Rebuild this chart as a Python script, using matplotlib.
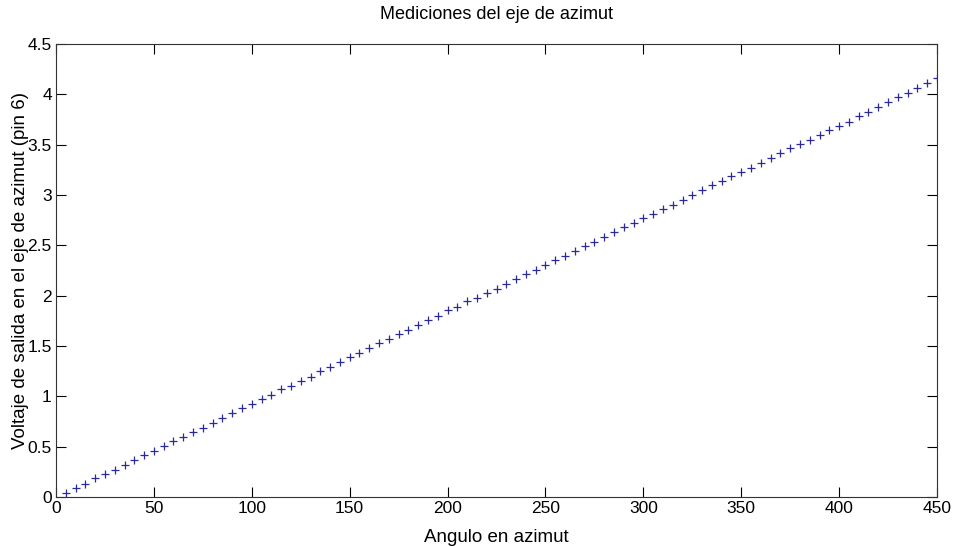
##Basic libraries for plotting and working with arrays
import matplotlib.pyplot as plt
import numpy as np

angulo=[5,10,15,20,25,30,35,40,45,50,
        55,60,65,70,75,80,85,90,95,100,
        105,110,115,120,125,130,135,140,145,150,
        155,160,165,170,175,180,185,190,195,200,
        205,210,215,220,225,230,235,240,245,250,
        255,260,265,270,275,280,285,290,295,300,
        305,310,315,320,325,330,335,340,345,350,
        355,360,365,370,375,380,385,390,395,400,
        405,410,415,420,425,430,435,440,445,450]
voltaje=[0.044,0.089,0.133,0.189,0.233,0.265,0.318,0.368,0.417,0.457,
         0.511,0.554,0.600,0.643,0.686,0.736,0.782,0.835,0.882,0.924,
         0.978,1.018,1.071,1.107,1.150,1.193,1.247,1.292,1.346,1.386,
         1.428,1.478,1.528,1.571,1.624,1.660,1.710,1.754,1.803,1.853,
         1.889,1.945,1.978,2.028,2.068,2.121,2.164,2.211,2.256,2.306,
         2.350,2.396,2.445,2.495,2.538,2.581,2.635,2.678,2.718,2.767,
         2.810,2.865,2.903,2.952,3.002,3.046,3.095,3.135,3.185,3.228,
         3.267,3.320,3.370,3.419,3.466,3.503,3.548,3.592,3.645,3.685,
         3.730,3.780,3.820,3.870,3.920,3.970,4.010,4.060,4.110,4.160]
xticks=[0,50,100,150,200,250,300,350,400,450]
yticks=[0,0.5,1,1.5,2,2.5,3,3.5,4,4.5]
yticklabels=['0','0.5','1','1.5','2','2.5','3','3.5','4','4.5']

plt.rcParams['font.family']=['Liberation Sans','DejaVu Sans']

fig=plt.figure(figsize=(9.54,5.46),dpi=100)
ax=fig.add_axes([0.0587,0.0897,0.9235,0.8297])
ax.plot(angulo,voltaje,'+',color='#2a2a9a',markersize=5.5,markeredgewidth=0.9)
ax.set_xlim(0,450)
ax.set_ylim(0,4.5)
ax.set_xticks(xticks)
ax.set_xticklabels([str(t) for t in xticks])
ax.set_yticks(yticks)
ax.set_yticklabels(yticklabels)
ax.tick_params(direction='in',top=True,right=True,length=7,width=0.8,labelsize=12.5,pad=3)
for s in ax.spines.values():
    s.set_linewidth(0.8)
    s.set_color('#333333')
ax.set_title('Mediciones del eje de azimut',fontsize=13,pad=18)
ax.set_xlabel('Angulo en azimut',fontsize=13.5,labelpad=9)
ax.set_ylabel('Voltaje de salida en el eje de azimut (pin 6)',fontsize=13.5,labelpad=-1)
fig.savefig('out.png',dpi=100)
